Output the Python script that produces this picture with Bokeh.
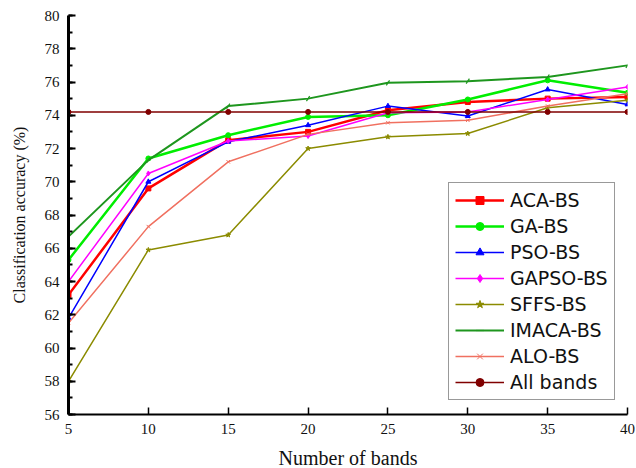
from bokeh.plotting import figure
from bokeh.models import Legend, LegendItem, SingleIntervalTicker, FixedTicker
from bokeh.embed import file_html
from bokeh.resources import INLINE

bands = [5, 10, 15, 20, 25, 30, 35, 40]
aca_bs = [63.2, 69.6, 72.5, 73.0, 74.3, 74.8, 75.0, 75.1]
ga_bs = [65.3, 71.4, 72.8, 73.9, 74.0, 74.95, 76.1, 75.35]
pso_bs = [61.8, 70.0, 72.4, 73.4, 74.55, 73.95, 75.55, 74.65]
gapso_bs = [64.0, 70.5, 72.45, 72.75, 74.15, 74.2, 74.95, 75.7]
sffs_bs = [58.0, 65.9, 66.8, 72.0, 72.7, 72.9, 74.45, 74.9]
imaca_bs = [66.7, 71.3, 74.55, 75.0, 75.95, 76.05, 76.3, 77.0]
alo_bs = [61.5, 67.3, 71.2, 72.85, 73.55, 73.7, 74.55, 75.3]
all_bands = [74.2, 74.2, 74.2, 74.2, 74.2, 74.2, 74.2, 74.2]

series = [
    ("ACA-BS", aca_bs, "#FF0000", "square", 2.5),
    ("GA-BS", ga_bs, "#00EE00", "circle", 2.5),
    ("PSO-BS", pso_bs, "#0000FF", "triangle", 1.5),
    ("GAPSO-BS", gapso_bs, "#FF00FF", "diamond", 1.5),
    ("SFFS-BS", sffs_bs, "#8B8B00", "star", 1.5),
    ("IMACA-BS", imaca_bs, "#1E961E", "dash", 2),
    ("ALO-BS", alo_bs, "#F07060", "x", 1.5),
    ("All bands", all_bands, "#800000", "circle", 1.5),
]

p = figure(frame_width=559, frame_height=399, output_backend="svg", toolbar_location=None,
           x_range=(5, 40), y_range=(56, 80),
           min_border_left=68, min_border_right=8, min_border_top=15, min_border_bottom=50)
p.outline_line_color = None
p.grid.visible = False
p.background_fill_color = "white"

items = []
for name, ys, col, mk, lw in series:
    r1 = p.line(bands, ys, line_color=col, line_width=lw)
    if mk == "dash":
        r2 = p.scatter(bands, ys, marker="dash", size=6, line_color=col, line_width=1.2, angle=1.0)
    else:
        r2 = p.scatter(bands, ys, marker=mk, size=5, line_color=col, fill_color=col, line_width=1)
    items.append(LegendItem(label=name, renderers=[r1, r2]))

xa = p.xaxis[0]
xa.ticker = FixedTicker(ticks=bands)
xa.axis_label = "Number of bands"
ya = p.yaxis[0]
ya.ticker = SingleIntervalTicker(interval=2, num_minor_ticks=2)
ya.axis_label = "Classification accuracy (%)"

for ax in (xa, ya):
    ax.major_label_text_font = "Liberation Serif"
    ax.major_label_text_font_size = "15px"
    ax.major_label_text_color = "#111111"
    ax.axis_label_text_font = "Liberation Serif"
    ax.axis_label_text_font_style = "normal"
    ax.axis_label_text_color = "#111111"
    ax.axis_line_color = "black"
    ax.major_tick_line_color = "black"
    ax.minor_tick_line_color = "black"
    ax.major_tick_in = 7
    ax.major_tick_out = 0
    ax.minor_tick_in = 4
    ax.minor_tick_out = 0
    ax.major_label_standoff = 9
xa.axis_label_text_font_size = "20px"
ya.axis_label_text_font_size = "16px"
ya.axis_line_width = 3
xa.axis_line_width = 2
ya.major_tick_line_width = 2
ya.minor_tick_line_width = 2
xa.major_tick_line_width = 1.5
xa.minor_tick_line_color = None
ya.axis_label_standoff = 14
xa.axis_label_standoff = 10

legend = Legend(items=items, location=(380, 14))
legend.label_text_font = "DejaVu Sans"
legend.label_text_font_size = "19px"
legend.label_text_color = "#111111"
legend.glyph_width = 49
legend.glyph_height = 20
legend.label_height = 20
legend.spacing = 4
legend.padding = 6
legend.margin = 0
legend.label_standoff = 6
legend.border_line_color = "#333333"
legend.border_line_width = 1.5
legend.background_fill_alpha = 1
p.add_layout(legend, "center")

open("out.html", "w").write(file_html(p, INLINE))
